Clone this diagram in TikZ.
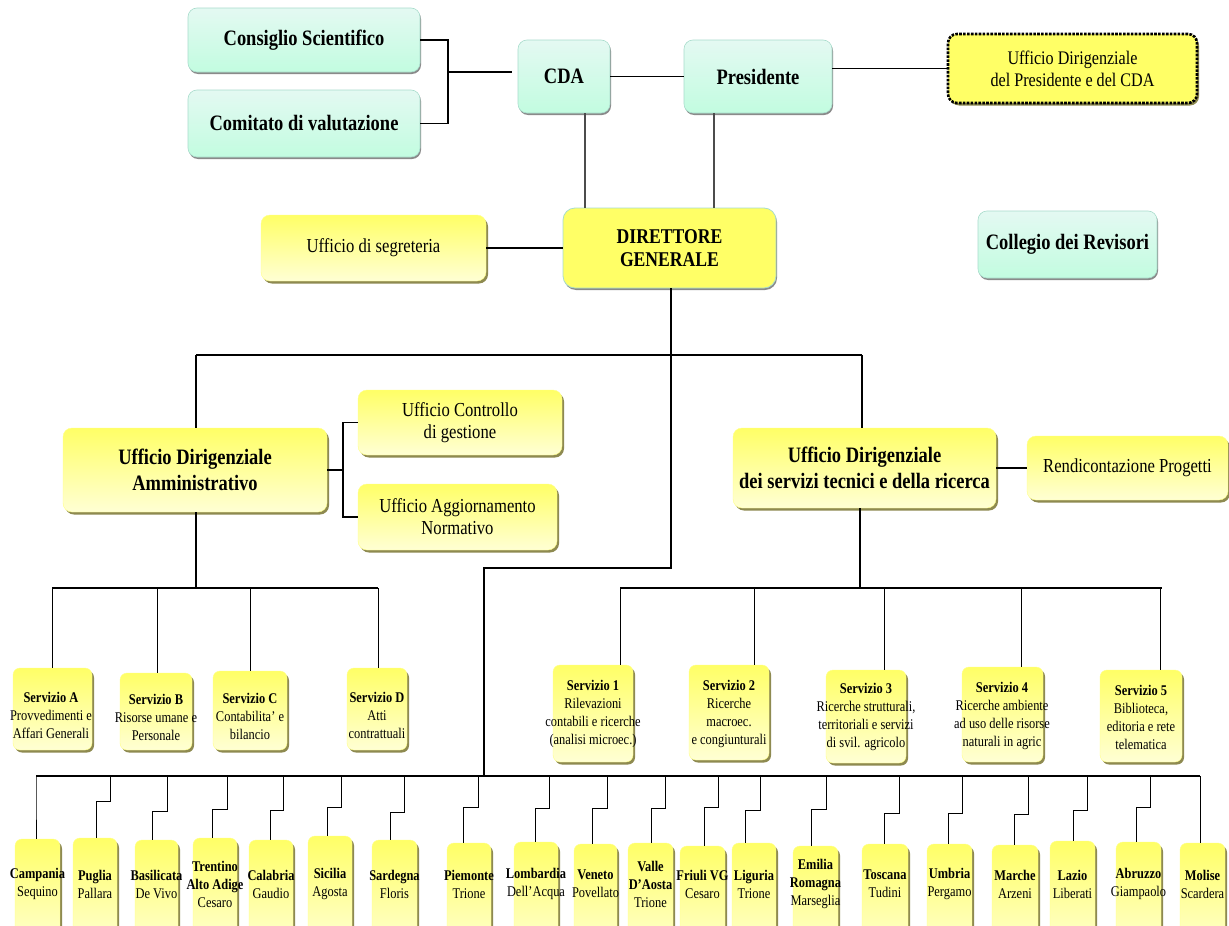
\documentclass[tikz,border=0pt]{standalone}
\usepackage{fontspec}
\setmainfont{Liberation Serif}[FakeStretch=0.84]
\usetikzlibrary{shadows}
\definecolor{ytop}{HTML}{FFFF66}
\definecolor{ybot}{HTML}{FFFFD4}
\definecolor{mtop}{HTML}{E4F9F2}
\definecolor{mbot}{HTML}{C2FCE0}
\definecolor{mline}{HTML}{A8DCCC}
\definecolor{yshad}{HTML}{8E8A50}
\definecolor{gshad}{HTML}{8A8A8A}
\tikzset{
  ybox/.style={rounded corners=9pt, top color=ytop, bottom color=ybot, draw=ytop!70!ybot, line width=0.4pt,
     drop shadow={shadow xshift=2pt, shadow yshift=-2.5pt, fill=yshad, opacity=1}},
  rbox/.style={ybox, rounded corners=7pt},
  mbox/.style={rounded corners=9pt, top color=mtop, bottom color=mbot, draw=mline, line width=0.6pt,
     drop shadow={shadow xshift=1pt, shadow yshift=-2pt, fill=gshad, opacity=1}},
  dgbox/.style={rounded corners=12pt, fill=ytop, draw=mline, line width=0.8pt,
     drop shadow={shadow xshift=1pt, shadow yshift=-2pt, fill=gshad, opacity=1}},
  dotbox/.style={rounded corners=9pt, fill=ytop, draw=black, line width=2.6pt, dash pattern=on 2.6pt off 1.3pt,
     drop shadow={shadow xshift=2pt, shadow yshift=-2.5pt, fill=yshad, opacity=1}},
  txt/.style={align=center, inner sep=0pt},
  bigb/.style={txt, font=\fontsize{22}{26}\selectfont\bfseries},
  reg/.style={txt, font=\fontsize{19.8}{22}\selectfont},
  small/.style={txt, font=\fontsize{14.8}{18}\selectfont},
  ln/.style={line width=1.4pt, black},
  tln/.style={line width=1pt, black},
  dln/.style={line width=1.8pt, black!70},
}
\newcommand{\bx}[6]{\node[#1, anchor=north west, outer sep=0pt, minimum width=#5pt-#3pt, minimum height=#6pt-#4pt] (#2) at (#3,#4) {};}
\newcommand{\rg}[8]{%
  \node[rbox, anchor=north west, outer sep=0pt, minimum width=#3pt-#2pt, minimum height=110pt] (#1) at (#2,#4) {};
  \node[small] (#1-t) at ({(#2+#3)/2},884) {#8};
  \draw[tln] (#5,776) -- (#5,#6) -- (#7,#6) -- (#7,0 |- #1.north);}
\begin{document}
\begin{tikzpicture}[x=1pt,y=-1pt]
\useasboundingbox (0,0) rectangle (1229,926);
\fill[white] (0,0) rectangle (1229,926);
\clip (0,0) rectangle (1229,926);

% top boxes
\bx{mbox}{cs}{188}{8}{420}{72}
\node[bigb] (cs-t) at (cs) {Consiglio Scientifico};
\bx{mbox}{cv}{188}{90}{420}{157}
\node[bigb] (cv-t) at (cv) {Comitato di valutazione};
\bx{mbox}{cda}{518}{40}{610}{113}
\node[bigb] (cda-t) at (cda) {CDA};
\bx{mbox}{pres}{684}{40}{832}{113}
\node[bigb] (pres-t) at (pres) {Presidente};
\bx{dotbox}{udp}{948}{34}{1197}{103}
\node[txt, font=\fontsize{19.2}{22}\selectfont] (udp-t) at (udp) {Ufficio Dirigenziale\\del Presidente e del CDA};
\bx{mbox}{coll}{978}{211}{1157}{278}
\node[bigb] (coll-t) at (coll) {Collegio dei Revisori};

\bx{ybox}{seg}{261}{215}{486}{281}
\node[reg] (seg-t) at (seg) {Ufficio di segreteria};
\bx{dgbox}{dg}{563}{208}{776}{288}
\node[txt, font=\fontsize{21}{23}\selectfont\bfseries] (dg-t) at (dg) {DIRETTORE\\GENERALE};

\bx{ybox}{uda}{63}{428}{327}{512}
\node[bigb] (uda-t) at (uda) {Ufficio Dirigenziale\\Amministrativo};
\bx{ybox}{ucg}{358}{390}{562}{455}
\node[reg] (ucg-t) at (ucg) {Ufficio Controllo\\di gestione};
\bx{ybox}{uan}{358}{484}{557}{550}
\node[reg] (uan-t) at (uan) {Ufficio Aggiornamento\\Normativo};
\bx{ybox}{udst}{733}{428}{996}{508}
\node[bigb] (udst-t) at (udst) {Ufficio Dirigenziale\\dei servizi tecnici e della ricerca};
\bx{ybox}{rend}{1027}{436}{1228}{500}
\node[reg] (rend-t) at (rend) {Rendicontazione Progetti};

% servizi A-D
\bx{rbox}{sa}{13}{668}{92}{750}
\node[small] (sa-t) at (51,715) {\textbf{Servizio A}\\Provvedimenti e\\Affari Generali};
\bx{rbox}{sb}{120}{673}{192}{750}
\node[small] (sb-t) at (156,717) {\textbf{Servizio B}\\Risorse umane e\\Personale};
\bx{rbox}{sc}{213}{671}{287}{750}
\node[small] (sc-t) at (250,716) {\textbf{Servizio C}\\Contabilita’ e\\bilancio};
\bx{rbox}{sd}{347}{668}{407}{750}
\node[small] (sd-t) at (377,715) {\textbf{Servizio D}\\Atti\\contrattuali};

% servizi 1-5
\bx{rbox}{s1}{553}{665}{633}{762}
\node[small] (s1-t) at (593,714) {\textbf{Servizio 1}\\Rilevazioni\\contabili e ricerche\\(analisi microec.)};
\bx{rbox}{s2}{689}{665}{769}{760}
\node[small] (s2-t) at (729,714) {\textbf{Servizio 2}\\Ricerche\\macroec.\\e congiunturali};
\bx{rbox}{s3}{826}{670}{906}{763}
\node[small] (s3-t) at (866,717) {\textbf{Servizio 3}\\Ricerche strutturali,\\territoriali e servizi\\di svil. agricolo};
\bx{rbox}{s4}{962}{667}{1043}{762}
\node[small] (s4-t) at (1002,716) {\textbf{Servizio 4}\\Ricerche ambiente\\ad uso delle risorse\\naturali in agric};
\bx{rbox}{s5}{1100}{670}{1182}{762}
\node[small] (s5-t) at (1141,717) {\textbf{Servizio 5}\\Biblioteca,\\editoria e rete\\telematica};

% top connectors
\coordinate (cdaend) at (512,72);
\draw[ln] (cs.east) -- (448,0 |- cs.east) -- (448,0 |- cv.east) -- (cv.east);
\draw[ln] (448,72) -- (cdaend);
\draw[ln] (cda.east) -- (pres.west);
\draw[ln] (udp.west) -- (udp.west -| pres.east);
\draw[dln] (cda.south -| 585,0) -- (dg.north -| 585,0);
\draw[dln] (pres.south -| 714,0) -- (dg.north -| 714,0);
\draw[ln] (seg.east) -- (dg.west);

% DG to offices
\draw[ln] (dg.south -| 671,0) -- (671,568) -- (484,568) -- (484,776);
\draw[ln] (196,355) -- (862,355);
\draw[ln] (196,355) -- (uda.north -| 196,0);
\draw[ln] (862,355) -- (udst.north -| 862,0);
\draw[ln] (uda.east) -- (343,0 |- uda.east);
\draw[ln] (ucg.west) -- (343,0 |- ucg.west) -- (343,0 |- uan.west) -- (uan.west);
\draw[ln] (udst.east) -- (rend.west);

% UDA to servizi
\draw[ln] (uda.south -| 196,0) -- (196,588);
\draw[ln] (52,588) -- (378,588);
\draw[tln] (52,588) -- (sa.north -| 52,0);
\draw[tln] (157,588) -- (sb.north -| 157,0);
\draw[tln] (250,588) -- (sc.north -| 250,0);
\draw[tln] (378,588) -- (sd.north -| 378,0);

% UDST to servizi
\draw[ln] (udst.south -| 860,0) -- (860,588);
\draw[ln] (620,588) -- (1162,588);
\draw[tln] (620,588) -- (s1.north -| 620,0);
\draw[tln] (754,588) -- (s2.north -| 754,0);
\draw[tln] (884,588) -- (s3.north -| 884,0);
\draw[tln] (1021,588) -- (s4.north -| 1021,0);
\draw[tln] (1160,588) -- (s5.north -| 1160,0);

% bottom bus
\draw[ln] (36,776) -- (1200,776);

\rg{campania}{15}{60}{839}{36}{801}{36}{\textbf{Campania}\\Sequino}
\rg{puglia}{73}{117}{838}{110}{801}{96}{\textbf{Puglia}\\Pallara}
\rg{basilicata}{135}{178}{840}{167}{811}{152}{\textbf{Basilicata}\\De Vivo}
\rg{trentino}{193}{237}{838}{227}{809}{212}{\textbf{Trentino}\\\textbf{Alto Adige}\\Cesaro}
\rg{calabria}{249}{293}{840}{283}{810}{270}{\textbf{Calabria}\\Gaudio}
\rg{sicilia}{308}{352}{836}{341}{807}{327}{\textbf{Sicilia}\\Agosta}
\rg{sardegna}{372}{417}{840}{404}{812}{390}{\textbf{Sardegna}\\Floris}
\rg{piemonte}{447}{491}{843}{478}{807}{463}{\textbf{Piemonte}\\Trione}
\rg{lombardia}{514}{558}{842}{549}{808}{535}{\textbf{Lombardia}\\Dell’Acqua}
\rg{veneto}{574}{617}{844}{607}{808}{592}{\textbf{Veneto}\\Povellato}
\rg{valle}{628}{673}{843}{665}{808}{651}{\textbf{Valle}\\\textbf{D’Aosta}\\Trione}
\rg{friuli}{680}{725}{846}{718}{807}{704}{\textbf{Friuli VG}\\Cesaro}
\rg{liguria}{732}{776}{843}{760}{810}{745}{\textbf{Liguria}\\Trione}
\rg{emilia}{793}{838}{846}{826}{809}{811}{\textbf{Emilia}\\\textbf{Romagna}\\Marseglia}
\rg{toscana}{862}{908}{844}{899}{813}{884}{\textbf{Toscana}\\Tudini}
\rg{umbria}{927}{972}{844}{962}{813}{948}{\textbf{Umbria}\\Pergamo}
\rg{marche}{992}{1038}{845}{1028}{814}{1014}{\textbf{Marche}\\Arzeni}
\rg{lazio}{1050}{1095}{841}{1087}{810}{1073}{\textbf{Lazio}\\Liberati}
\rg{abruzzo}{1116}{1161}{842}{1150}{807}{1136}{\textbf{Abruzzo}\\Giampaolo}
\rg{molise}{1180}{1225}{843}{1200}{801}{1200}{\textbf{Molise}\\Scardera}
\end{tikzpicture}
\end{document}
